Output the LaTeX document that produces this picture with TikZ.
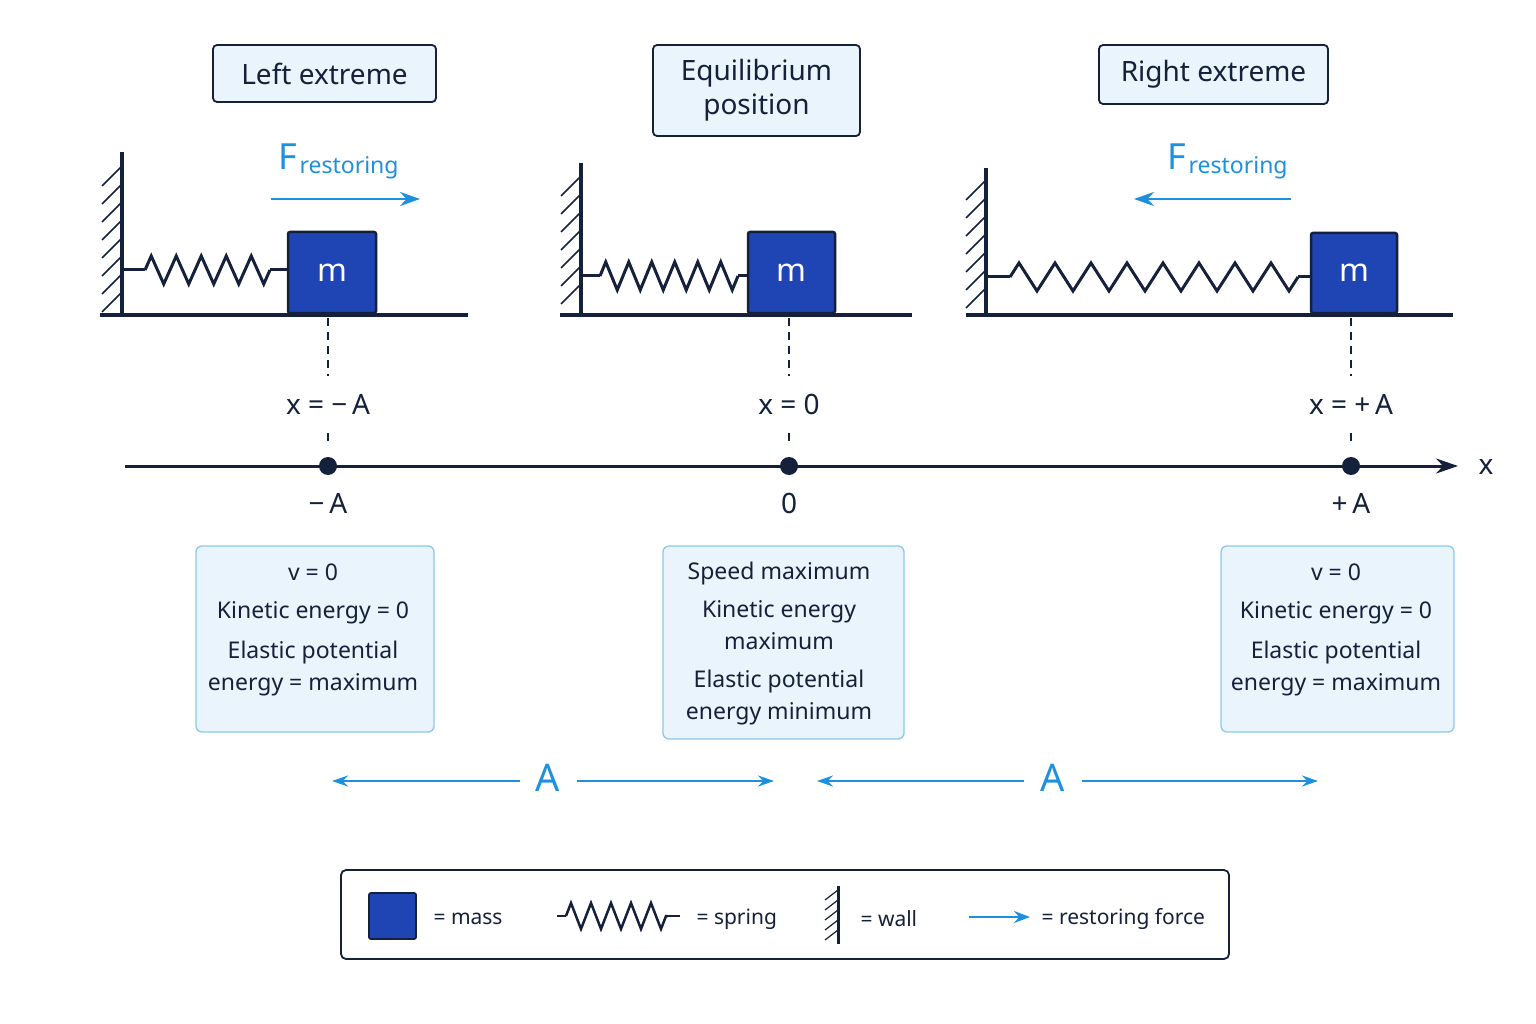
\documentclass[tikz,border=0pt]{standalone}
\usepackage{fontspec}
\setmainfont{Noto Sans}
\usetikzlibrary{decorations.pathmorphing,arrows.meta}
\definecolor{navy}{HTML}{15203A}
\definecolor{massblue}{HTML}{1F45B5}
\definecolor{fblue}{HTML}{1E90E0}
\definecolor{boxfill}{HTML}{EAF4FC}
\definecolor{boxline}{HTML}{8CC8EE}
\tikzset{
 titlebox/.style={draw=navy,line width=1.8pt,fill=boxfill,rounded corners=4pt,align=center,font=\fontsize{28}{34}\selectfont,text=navy},
 infobox/.style={draw=boxline,line width=1.3pt,fill=boxfill,rounded corners=6pt},
 infotext/.style={align=center,font=\fontsize{23}{38}\selectfont,text=navy},
 massbox/.style={draw=navy,line width=2.5pt,fill=massblue,rounded corners=2pt},
 ground/.style={navy,line width=3.5pt},
 wallline/.style={navy,line width=3.5pt},
 hatch/.style={navy,line width=1.5pt},
 springline/.style={navy,line width=3pt,decorate,decoration={zigzag,amplitude=14pt}},
 force/.style={fblue,line width=2.5pt,-{Stealth[length=20pt,width=14pt]}},
 dimarrow/.style={fblue,line width=2pt,-{Stealth[length=16pt,width=11pt]}},
 dashv/.style={navy,line width=2pt,dash pattern=on 8pt off 6pt},
 lbl/.style={font=\fontsize{28}{30}\selectfont,text=navy},
 legtext/.style={font=\fontsize{21}{24}\selectfont,text=navy,anchor=west},
}
\begin{document}
\begin{tikzpicture}[x=1pt,y=-1pt]
\useasboundingbox[fill=white] (0,0) rectangle (1536,1024);
% titles
\node[titlebox,minimum width=223pt,minimum height=57pt] (t1) at (324.5,73.5) {Left extreme};
\node[titlebox,minimum width=207pt,minimum height=91pt] (t2) at (756.5,90.5) {Equilibrium\\position};
\node[titlebox,minimum width=229pt,minimum height=59pt] (t3) at (1213.5,74.5) {Right extreme};
% left panel
\draw[wallline] (122,152) -- (122,316);
\foreach \yy in {166,184,...,300}{\draw[hatch] (122,\yy) -- (102,\yy+20);}
\draw[ground] (100,315) -- (468,315);
\node[massbox,minimum width=88pt,minimum height=81pt] (m1) at (332,272.5) {};
\node[text=white,font=\fontsize{32}{32}\selectfont] at (m1) {m};
\coordinate (s1a) at (122,270); \coordinate (s1b) at (145,270);
\coordinate (s1c) at (270,270);
\draw[navy,line width=3pt] (s1a) -- (s1b);
\draw[springline,decoration={segment length=25pt}] (s1b) -- (s1c);
\draw[navy,line width=3pt] (s1c) -- (m1.west|-s1c);
\node[text=fblue,font=\fontsize{36}{36}\selectfont] (f1) at (288,157) {F};
\node[text=fblue,font=\fontsize{23}{23}\selectfont,anchor=west] at (296,168) {restoring};
\coordinate (fa1) at (271,199); \coordinate (fb1) at (420,199);
\draw[force] (fa1) -- (fb1);
% middle panel
\draw[wallline] (581,163) -- (581,316);
\foreach \yy in {176,194,...,300}{\draw[hatch] (581,\yy) -- (561,\yy+20);}
\draw[ground] (560,315) -- (912,315);
\node[massbox,minimum width=87pt,minimum height=81pt] (m2) at (791.5,272.5) {};
\node[text=white,font=\fontsize{32}{32}\selectfont] at (m2) {m};
\coordinate (s2a) at (581,276); \coordinate (s2b) at (600,276);
\coordinate (s2c) at (738,276);
\draw[navy,line width=3pt] (s2a) -- (s2b);
\draw[springline,decoration={segment length=23pt}] (s2b) -- (s2c);
\draw[navy,line width=3pt] (s2c) -- (m2.west|-s2c);
% right panel
\draw[wallline] (986,168) -- (986,316);
\foreach \yy in {180,198,...,300}{\draw[hatch] (986,\yy) -- (966,\yy+20);}
\draw[ground] (966,315) -- (1453,315);
\node[massbox,minimum width=86pt,minimum height=80pt] (m3) at (1354,273) {};
\node[text=white,font=\fontsize{32}{32}\selectfont] at (m3) {m};
\coordinate (s3a) at (986,277); \coordinate (s3b) at (1010,277);
\coordinate (s3c) at (1298,277);
\draw[navy,line width=3pt] (s3a) -- (s3b);
\draw[springline,decoration={segment length=36pt}] (s3b) -- (s3c);
\draw[navy,line width=3pt] (s3c) -- (m3.west|-s3c);
\node[text=fblue,font=\fontsize{36}{36}\selectfont] (f3) at (1177,157) {F};
\node[text=fblue,font=\fontsize{23}{23}\selectfont,anchor=west] at (1185,168) {restoring};
\coordinate (fa3) at (1291,199); \coordinate (fb3) at (1134,199);
\draw[force] (fa3) -- (fb3);
% axis
\coordinate (ax0) at (125,466); \coordinate (ax1) at (1458,466);
\draw[navy,line width=3pt,-{Stealth[length=22pt,width=15pt]}] (ax0) -- (ax1);
\node[lbl] at (1486,467) {x};
\foreach \xx/\nm/\top/\bot in {328/p1/{x = −\,A}/{−\,A},789/p2/{x = 0}/{0},1351/p3/{x = +\,A}/{+\,A}}{
  \node[circle,fill=navy,inner sep=0pt,minimum size=18pt] (\nm) at (\xx,466) {};
  \node[lbl] (\nm t) at (\xx,404) {\top};
  \node[lbl] (\nm b) at (\xx,503) {\bot};
  \draw[dashv] (\xx,318) -- (\xx,376);
  \draw[dashv] (\xx,433) -- (\xx,446);
}
% info boxes
\node[infobox,minimum width=238pt,minimum height=186pt] (i1) at (315,639) {};
\node[infotext] at (313,630) {v = 0\\Kinetic energy = 0\\[2pt]Elastic potential\\[-6pt]energy = maximum};
\node[infobox,minimum width=241pt,minimum height=193pt] (i2) at (783.5,642.5) {};
\node[infotext] at (779,644) {Speed maximum\\Kinetic energy\\[-6pt]maximum\\Elastic potential\\[-6pt]energy minimum};
\node[infobox,minimum width=233pt,minimum height=186pt] (i3) at (1337.5,639) {};
\node[infotext] at (1336,630) {v = 0\\Kinetic energy = 0\\[2pt]Elastic potential\\[-6pt]energy = maximum};
% amplitude arrows
\node[text=fblue,font=\fontsize{38}{38}\selectfont] (A1) at (548,778) {A};
\node[text=fblue,font=\fontsize{38}{38}\selectfont] (A2) at (1053,778) {A};
\coordinate (a1l) at (332,781); \coordinate (a1r) at (774,781);
\coordinate (a2l) at (817,781); \coordinate (a2r) at (1318,781);
\draw[dimarrow] (520,781) -- (a1l);
\draw[dimarrow] (577,781) -- (a1r);
\draw[dimarrow] (1024,781) -- (a2l);
\draw[dimarrow] (1082,781) -- (a2r);
% legend
\node[draw=navy,line width=1.8pt,rounded corners=5pt,fill=white,minimum width=888pt,minimum height=89pt] (leg) at (785,914.5) {};
\node[massbox,line width=1.8pt,minimum width=47pt,minimum height=46pt] (lm) at (392.5,916) {};
\node[legtext] at (430,919) {= mass};
\coordinate (ls0) at (557,916); \coordinate (ls1) at (566,916);
\coordinate (ls2) at (668,916); \coordinate (ls3) at (680,916);
\draw[navy,line width=2.5pt] (ls0) -- (ls1);
\draw[navy,line width=2.5pt,decorate,decoration={zigzag,amplitude=13pt,segment length=20pt}] (ls1) -- (ls2);
\draw[navy,line width=2.5pt] (ls2) -- (ls3);
\node[legtext] at (693,919) {= spring};
\draw[navy,line width=3pt] (838,886) -- (838,944);
\foreach \yy in {890,900,...,935}{\draw[navy,line width=1.2pt] (838,\yy) -- (825,\yy+10);}
\node[legtext] at (857,919) {= wall};
\coordinate (lfa) at (969,917); \coordinate (lfb) at (1030,917);
\draw[fblue,line width=2.5pt,-{Stealth[length=16pt,width=12pt]}] (lfa) -- (lfb);
\node[legtext] at (1038,919) {= restoring force};
\end{tikzpicture}
\end{document}
